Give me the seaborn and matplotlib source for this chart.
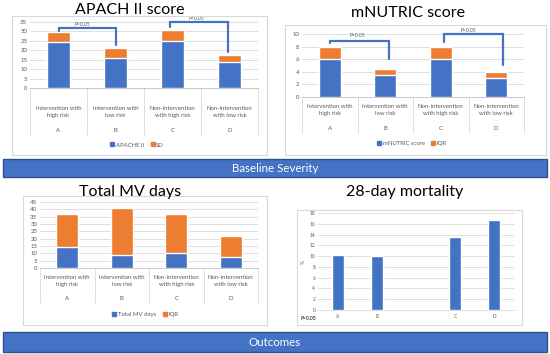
import numpy as np
import matplotlib
matplotlib.use("Agg")
import matplotlib.pyplot as plt
from matplotlib.patches import Rectangle
from matplotlib.lines import Line2D
import seaborn as sns

# data
groups = ["A", "B", "C", "D"]
group_names = ["Intervention with\nhigh risk", "Intervention with\nlow risk",
               "Non-intervention\nwith high risk", "Non-intervention\nwith low risk"]

apache_mean = [24.5, 15.7, 24.8, 14.0]
apache_sd = [5.3, 5.6, 6.2, 3.3]

mnutric_median = [6.0, 3.5, 6.0, 3.0]
mnutric_iqr = [2.0, 1.0, 2.0, 1.0]

mv_median = [14.0, 9.2, 10.5, 7.5]
mv_iqr = [23.0, 31.8, 26.0, 14.5]

mort_groups = ["A", "B", " ", "C", "D"]
mortality = [10.2, 10.0, 13.6, 16.7]

BLUE = "#4472C4"
ORANGE = "#ED7D31"
GRID = "#D9D9D9"
TXT = "#595959"

sns.set_theme(style="white")
plt.rcParams["font.family"] = ["Lato", "DejaVu Sans"]

W, H = 550, 354
fig = plt.figure(figsize=(W / 100, H / 100), dpi=100)


def rect(x0, y0, x1, y1):
    return [x0 / W, 1 - y1 / H, (x1 - x0) / W, (y1 - y0) / H]


def box(x0, y0, x1, y1):
    fig.patches.append(Rectangle((x0 / W, 1 - y1 / H), (x1 - x0) / W, (y1 - y0) / H,
                                 transform=fig.transFigure, fill=False,
                                 edgecolor="#D9D9D9", linewidth=0.8))


def band(y0, y1, label):
    fig.patches.append(Rectangle((3 / W, 1 - y1 / H), 544 / W, (y1 - y0) / H,
                                 transform=fig.transFigure, facecolor=BLUE,
                                 edgecolor="#2F528F", linewidth=1.0))
    fig.text(275 / W, 1 - (y0 + y1) / 2 / H, label, color="white",
             ha="center", va="center", fontsize=8.3)


def title(x, y, s):
    fig.text(x / W, 1 - y / H, s, ha="center", va="center", fontsize=11.5, color="black")


def stacked(ax_px, base, extra, ymax, ystep, labels_px, legend_names, legend_px):
    x0, y0, x1, y1 = ax_px
    ax = fig.add_axes(rect(x0, y0, x1, y1))
    total = [b + e for b, e in zip(base, extra)]
    sns.barplot(x=groups, y=total, color=ORANGE, saturation=1, width=0.4, ax=ax)
    sns.barplot(x=groups, y=base, color=BLUE, saturation=1, width=0.4, ax=ax)
    ax.set_ylim(0, ymax)
    ax.set_xlim(-0.5, 3.5)
    ax.set_yticks(np.arange(0, ymax + 0.1, ystep))
    ax.tick_params(axis="y", labelsize=4.3, colors=TXT, length=0, pad=2)
    ax.set_xticks([])
    ax.yaxis.grid(True, color=GRID, linewidth=0.6)
    ax.set_axisbelow(True)
    for s in ["top", "right", "left"]:
        ax.spines[s].set_visible(False)
    ax.spines["bottom"].set_color("#BFBFBF")
    ax.spines["bottom"].set_linewidth(0.6)
    ax.set_xlabel("")
    ax.set_ylabel("")
    hpx = y1 - y0
    name_y, letter_y, div_y = labels_px
    tr = ax.get_xaxis_transform()
    for i in range(4):
        ax.text(i, (y1 - name_y) / hpx, group_names[i], transform=tr, ha="center",
                va="center", fontsize=4.3, color=TXT, linespacing=1.5)
        ax.text(i, (y1 - letter_y) / hpx, groups[i], transform=tr, ha="center",
                va="center", fontsize=4.3, color=TXT)
    for xd in [-0.5, 0.5, 1.5, 2.5, 3.5]:
        ax.plot([xd, xd], [0, (y1 - div_y) / hpx], transform=tr, color="#D9D9D9",
                linewidth=0.6, clip_on=False)
    handles = [Line2D([], [], marker="s", linestyle="", color=BLUE, markersize=2.5),
               Line2D([], [], marker="s", linestyle="", color=ORANGE, markersize=2.5)]
    fig.legend(handles, legend_names, loc="center", ncol=2, frameon=False,
               bbox_to_anchor=(legend_px[0] / W, 1 - legend_px[1] / H),
               fontsize=4.3, labelcolor=TXT, handletextpad=0.2, columnspacing=1.0,
               borderpad=0, handlelength=0.8)
    return ax


def bracket(ax, xa, ya0, ya1, xb, yb, tx, ty):
    ax.plot([xa, xa, xb, xb], [ya0, ya1, ya1, yb], color=BLUE, linewidth=1.6,
            clip_on=False, solid_joinstyle="miter")
    ax.text(tx, ty, "P<0.05", ha="center", va="center", fontsize=3.6, color=TXT,
            clip_on=False)


# panel 1: APACHE II
box(12, 16, 267, 155)
title(130, 10, "APACH II score")
ax1 = stacked((30, 22, 258, 88), apache_mean, apache_sd, 35, 5,
              (112, 130, 135), ["APACHE II", "SD"], (137, 145))
bracket(ax1, 0, 30.3, 31.8, 1.0, 22.8, 0.41, 33.9)
bracket(ax1, 1.96, 32.3, 35.0, 2.97, 19.0, 2.41, 37.0)

# panel 2: mNUTRIC
box(285, 25, 546, 155)
title(408, 13, "mNUTRIC score")
ax2 = stacked((302, 34, 524, 97), mnutric_median, mnutric_iqr, 10, 2,
              (110, 128, 133), ["mNUTRIC score", "IQR"], (412, 143))
bracket(ax2, 0, 8.6, 8.9, 1.07, 6.0, 0.49, 9.7)
bracket(ax2, 2.06, 8.8, 10.0, 3.12, 5.1, 2.49, 10.5)

band(159, 177, "Baseline Severity")

# panel 3: Total MV days
box(23, 196, 267, 325)
title(130, 192, "Total MV days")
stacked((40, 202, 258, 268), mv_median, mv_iqr, 45, 5,
        (281, 299, 303), ["Total MV days", "IQR"], (145, 314))

# panel 4: 28-day mortality
box(297, 210, 522, 325)
title(405, 192, "28-day mortality")
ax4 = fig.add_axes(rect(318, 213, 514, 310))
sns.barplot(x=["A", "B", "C", "D"], y=mortality, order=mort_groups, color=BLUE,
            saturation=1, width=0.31, ax=ax4)
ax4.set_ylim(0, 18)
ax4.set_xlim(-0.5, 4.5)
ax4.set_yticks(np.arange(0, 19, 2))
ax4.tick_params(axis="y", labelsize=3.4, colors=TXT, length=0, pad=2)
ax4.tick_params(axis="x", labelsize=3.4, colors=TXT, length=0, pad=3)
ax4.yaxis.grid(True, color=GRID, linewidth=0.6)
ax4.set_axisbelow(True)
for s in ["top", "right", "left"]:
    ax4.spines[s].set_visible(False)
ax4.spines["bottom"].set_color("#D9D9D9")
ax4.spines["bottom"].set_linewidth(0.6)
ax4.set_xlabel("")
ax4.set_ylabel("%", fontsize=3.6, color=TXT, labelpad=3)
fig.text(308 / W, 1 - 318 / H, "P>0.05", ha="center", va="center", fontsize=3.6, color="black")

band(332, 352, "Outcomes")

fig.savefig("out.png", dpi=100, facecolor="white")
